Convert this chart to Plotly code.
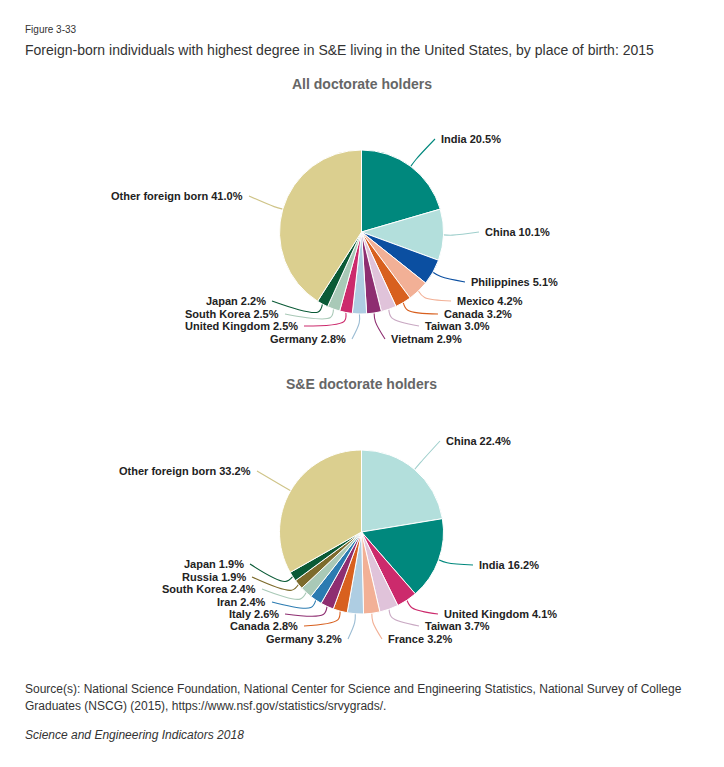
import math
import plotly.graph_objects as go

# ---------------- data ----------------
all_labels = ["India", "China", "Philippines", "Mexico", "Canada", "Taiwan", "Vietnam",
              "Germany", "United Kingdom", "South Korea", "Japan", "Other foreign born"]
all_values = [20.5, 10.1, 5.1, 4.2, 3.2, 3.0, 2.9, 2.8, 2.5, 2.5, 2.2, 41.0]

se_labels = ["China", "India", "United Kingdom", "Taiwan", "France", "Germany", "Canada",
             "Italy", "Iran", "South Korea", "Russia", "Japan", "Other foreign born"]
se_values = [22.4, 16.2, 4.1, 3.7, 3.2, 3.2, 2.8, 2.6, 2.4, 2.4, 1.9, 1.9, 33.2]

# ---------------- styles ----------------
COLORS = {
    "India": "#00887d", "China": "#b3dfdc", "Philippines": "#0b4fa1", "Mexico": "#f2b096",
    "Canada": "#d8601f", "Taiwan": "#e0c3da", "Vietnam": "#8e2e71", "Germany": "#aecde2",
    "United Kingdom": "#cc2a6c", "South Korea": "#a9c9b7", "Japan": "#0a5a36",
    "Other foreign born": "#dbcf8f", "France": "#f2b096", "Italy": "#8e2e71",
    "Iran": "#2b7bb1", "Russia": "#7d6b2c",
}
LINE_COLORS = dict(COLORS)
LINE_COLORS["China"] = "#9fcfcc"
LINE_COLORS["Other foreign born"] = "#cfc488"
LINE_COLORS["Taiwan"] = "#c9a9c3"
LINE_COLORS["Germany"] = "#9bbcd3"

W, H = 724, 767
R = 82
TOP_C = (361.5, 232)
BOT_C = (361.5, 532)

# label placement (pixel x, pixel y, side) -- layout only
TOP_POS = [(439, 139, "l"), (483, 232, "l"), (469, 282, "l"), (455, 301, "l"),
           (442, 314, "l"), (423, 326, "l"), (389, 339, "l"), (348, 339, "r"),
           (300, 326, "r"), (281, 314, "r"), (268, 301, "r"), (245, 196, "r")]
BOT_POS = [(444, 441, "l"), (477, 565, "l"), (442, 614, "l"), (423, 626, "l"),
           (386, 639, "l"), (344, 639, "r"), (300, 626, "r"), (281, 614, "r"),
           (268, 602, "r"), (258, 589, "r"), (248, 577, "r"), (246, 564, "r"),
           (253, 471, "r")]

FONT = "Liberation Sans, Arial, Helvetica, sans-serif"

fig = go.Figure()


def add_pie(labels, values, center, positions):
    cx, cy = center
    fig.add_trace(go.Pie(
        labels=labels, values=values, sort=False, direction="clockwise",
        marker=dict(colors=[COLORS[l] for l in labels], line=dict(color="white", width=1)),
        textinfo="none", hoverinfo="label+percent", showlegend=False,
        domain=dict(x=[(cx - R) / W, (cx + R) / W], y=[1 - (cy + R) / H, 1 - (cy - R) / H]),
    ))
    total = sum(values)
    cum = 0.0
    for lab, val, (lx, ly, side) in zip(labels, values, positions):
        ang = math.radians((cum + val / 2) / total * 360)
        cum += val
        x0 = cx + R * math.sin(ang)
        y0 = cy - R * math.cos(ang)
        x1 = cx + (R + 9) * math.sin(ang)
        y1 = cy - (R + 9) * math.cos(ang)
        ex = lx - 4 if side == "l" else lx + 4
        fig.add_trace(go.Scatter(
            x=[x0, x1, ex], y=[y0, y1, ly], mode="lines",
            line=dict(color=LINE_COLORS[lab], width=1.1, shape="spline", smoothing=1.0),
            hoverinfo="skip", showlegend=False, xaxis="x", yaxis="y",
        ))
        fig.add_annotation(
            x=lx, y=ly, xref="x", yref="y", text=f"<b>{lab} {val:.1f}%</b>",
            showarrow=False, xanchor="left" if side == "l" else "right", yanchor="middle",
            font=dict(family=FONT, size=11, color="#222222"),
        )


add_pie(all_labels, all_values, TOP_C, TOP_POS)
add_pie(se_labels, se_values, BOT_C, BOT_POS)

texts = [
    (23, 29, "Figure 3-33", 10, "#333333", "left"),
    (23, 50, "Foreign-born individuals with highest degree in S&E living in the United States, by place of birth: 2015", 14, "#333333", "left"),
    (361.5, 84, "<b>All doctorate holders</b>", 14, "#666666", "center"),
    (361.5, 384, "<b>S&E doctorate holders</b>", 14, "#666666", "center"),
    (23, 689, "Source(s): National Science Foundation, National Center for Science and Engineering Statistics, National Survey of College", 12, "#333333", "left"),
    (23, 706, "Graduates (NSCG) (2015), https://www.nsf.gov/statistics/srvygrads/.", 12, "#333333", "left"),
    (23, 735, "<i>Science and Engineering Indicators 2018</i>", 12, "#333333", "left"),
]
for x, y, t, s, c, a in texts:
    fig.add_annotation(x=x, y=y, xref="x", yref="y", text=t, showarrow=False,
                       xanchor=a, yanchor="middle", font=dict(family=FONT, size=s, color=c))

fig.update_layout(
    width=W, height=H, margin=dict(l=0, r=0, t=0, b=0),
    paper_bgcolor="white", plot_bgcolor="rgba(0,0,0,0)",
    xaxis=dict(range=[0, W], visible=False, domain=[0, 1], fixedrange=True),
    yaxis=dict(range=[H, 0], visible=False, domain=[0, 1], fixedrange=True),
    showlegend=False,
)

fig.write_html("out.html", config={"displayModeBar": False},
               post_script="document.body.style.margin='0';")
